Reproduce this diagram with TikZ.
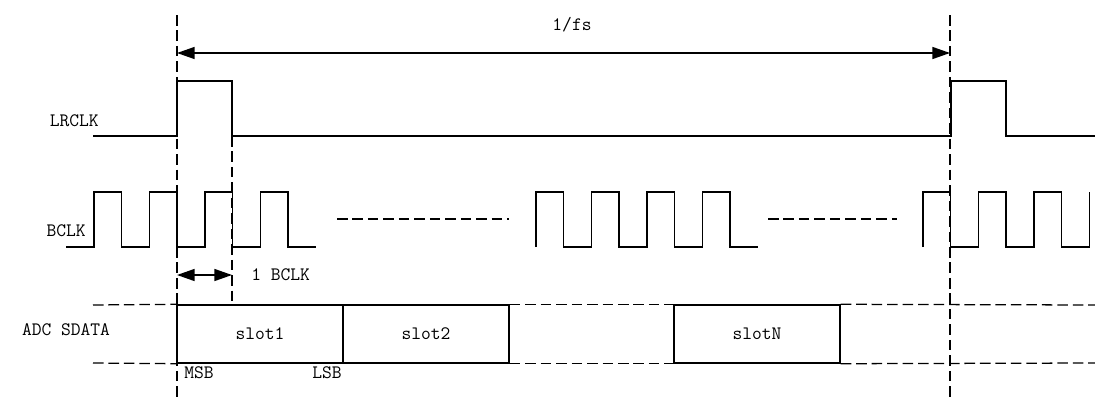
\documentclass[tikz,border=0pt]{standalone}
\usetikzlibrary{arrows.meta}

\tikzset{%
    wave/.style = {line width = 1pt, line join = miter},
    guide/.style = {line width = 0.9pt, dash pattern = on 7.5pt off 3.5pt},
    slotbox/.style = {%
        draw,
        line width = 1pt,
        minimum width = 4.15cm,
        minimum height = 1.45cm,
        inner sep = 0pt,
        font = \fontsize{13.5}{15}\selectfont\ttfamily
    },
    lbl/.style = {inner sep = 0pt, font = \fontsize{13.5}{15}\selectfont\ttfamily}
}

\begin{document}
\begin{tikzpicture}[%
        x = 0.025cm,
        y = -0.025cm,
        > = {Triangle[length = 12.5pt, width = 8.5pt]},
        line cap = butt
    ]

        \useasboundingbox (0, 0) rectangle (1095, 401);

        % Coordinates for the frame sync edges and the bit clock edge.
        \coordinate (F0) at (177, 15);
        \coordinate (F1) at (950, 15);
        \coordinate (F0b) at (177, 398);
        \coordinate (F1b) at (950, 398);
        \coordinate (B1) at (232, 136);
        \coordinate (B1b) at (232, 305);

        % Dashed guide lines at the frame edges and one bit clock later.
        \draw[guide] (F0) -- (F0b);
        \draw[guide] (F1) -- (F1b);
        \draw[guide] (B1) -- (B1b);

        % Frame period arrow.
        \coordinate (fsL) at (177, 53);
        \coordinate (fsR) at (950, 53);
        \draw[<->, line width = 1pt] (fsL) -- (fsR);
        \node[lbl] (fs) at (572, 25) {1/fs};

        % LRCLK waveform.
        \node[lbl, anchor = east] (lrclk) at (99, 121) {LRCLK};
        \draw[wave] (93, 136) -- (177, 136) -- (177, 81) -- (232, 81) -- (232, 136)
            -- (951, 136) -- (951, 81) -- (1006, 81) -- (1006, 136) -- (1095, 136);

        % BCLK waveform, three groups of pulses.
        \node[lbl, anchor = east] (bclk) at (86, 231) {BCLK};
        \draw[wave] (66, 247) -- (94, 247)
            foreach \i in {1,...,4} { -- ++(0, -55) -- ++(27.7, 0) -- ++(0, 55) -- ++(27.7, 0) };
        \draw[wave] (536, 247)
            foreach \i in {1,...,4} { -- ++(0, -55) -- ++(27.7, 0) -- ++(0, 55) -- ++(27.7, 0) };
        \draw[wave] (923, 247)
            foreach \i in {1,...,3} { -- ++(0, -55) -- ++(27.7, 0) -- ++(0, 55) -- ++(27.7, 0) }
            -- ++(0, -55);

        % Dashes for the pulses left out.
        \coordinate (g1a) at (337, 219);
        \coordinate (g1b) at (509, 219);
        \coordinate (g2a) at (768, 219);
        \coordinate (g2b) at (897, 219);
        \draw[guide] (g1a) -- (g1b);
        \draw[guide] (g2a) -- (g2b);

        % One bit clock arrow.
        \coordinate (bcL) at (177, 275);
        \coordinate (bcR) at (232, 275);
        \draw[<->, line width = 1pt] (bcL) -- (bcR);
        \node[lbl, anchor = west] (onebclk) at (251, 275) {1 BCLK};

        % ADC SDATA slots.
        \node[lbl] (sdata) at (66, 330) {ADC SDATA};
        \node[slotbox] (slot1) at (260, 334) {slot1};
        \node[slotbox] (slot2) at (426, 334) {slot2};
        \node[slotbox] (slotN) at (757, 334) {slotN};

        % Dashed bus edges between the slots.
        \coordinate (busTL) at (93, 305);
        \coordinate (busBL) at (93, 363);
        \coordinate (busTR) at (1095, 305);
        \coordinate (busBR) at (1095, 363);
        \draw[guide] (busTL) -- (slot1.north west);
        \draw[guide] (busBL) -- (slot1.south west);
        \draw[guide] (slot2.north east) -- (slotN.north west);
        \draw[guide] (slot2.south east) -- (slotN.south west);
        \draw[guide] (slotN.north east) -- (busTR);
        \draw[guide] (slotN.south east) -- (busBR);

        % Bit order labels.
        \node[lbl, anchor = west] (msb) at (184, 373) {MSB};
        \node[lbl] (lsb) at (327, 373) {LSB};
    \end{tikzpicture}
\end{document}
